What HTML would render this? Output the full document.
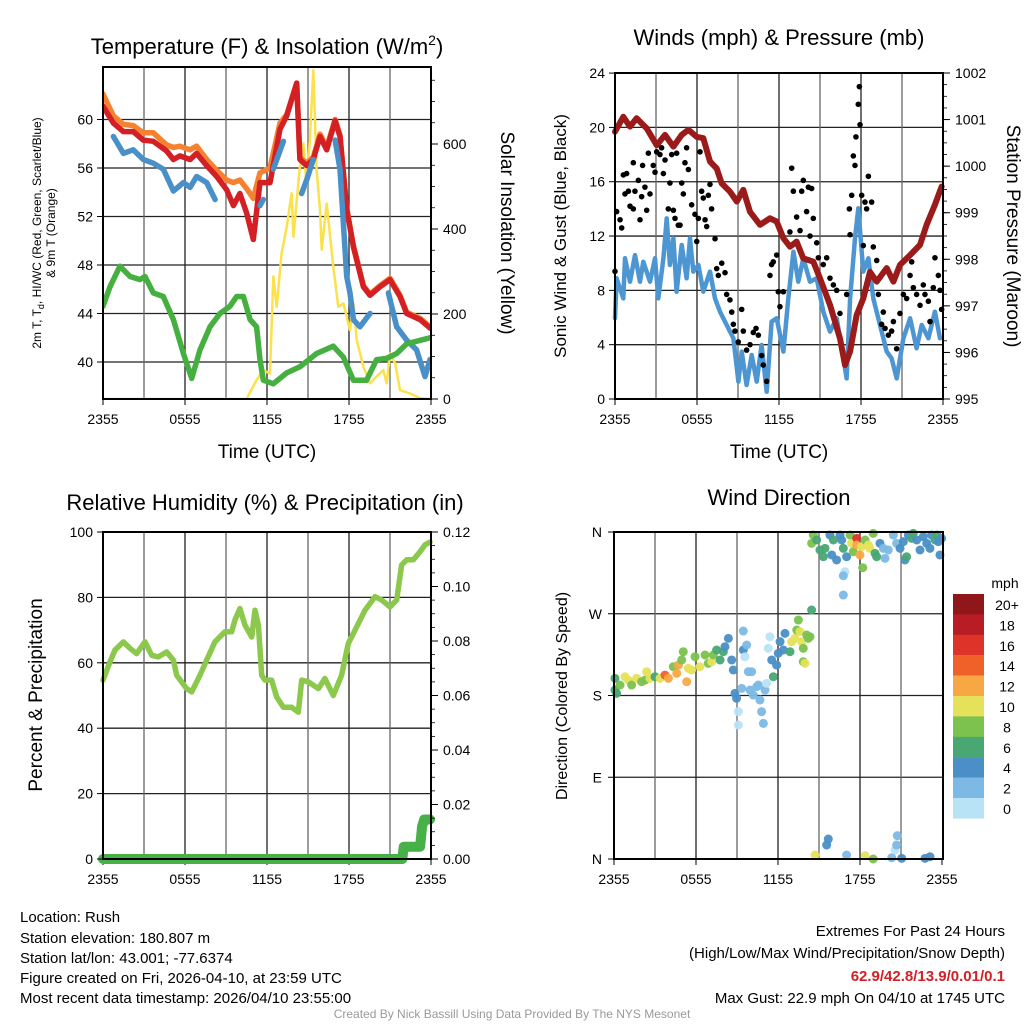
<!DOCTYPE html>
<html><head><meta charset="utf-8"><style>
html,body{margin:0;padding:0;background:#fff;}
svg{display:block;font-family:"Liberation Sans",sans-serif;}
</style></head><body>
<svg id="c" width="1024" height="1024" viewBox="0 0 1024 1024" xmlns="http://www.w3.org/2000/svg">
<rect width="1024" height="1024" fill="#fff"/>
<g id="g1"></g>
<g id="g2"></g>
<g id="g3"></g>
<g id="g4"></g>
<text x="267" y="54" font-size="22" text-anchor="middle">Temperature (F) &amp; Insolation (W/m<tspan dy="-9" font-size="14">2</tspan><tspan dy="9">)</tspan></text>
<text x="779" y="45" font-size="22" text-anchor="middle">Winds (mph) &amp; Pressure (mb)</text>
<text x="265" y="510" font-size="22" text-anchor="middle">Relative Humidity (%) &amp; Precipitation (in)</text>
<text x="779" y="505" font-size="22" text-anchor="middle">Wind Direction</text>
<text x="267" y="458" font-size="19" text-anchor="middle">Time (UTC)</text>
<text x="779" y="458" font-size="19" text-anchor="middle">Time (UTC)</text>
<text transform="translate(41,233) rotate(-90)" font-size="12" text-anchor="middle">2m T, T<tspan font-size="9" dy="3">d</tspan><tspan dy="-3">, HI/WC (Red, Green, Scarlet/Blue)</tspan></text>
<text transform="translate(55,233) rotate(-90)" font-size="12" text-anchor="middle">&amp; 9m T (Orange)</text>
<text transform="translate(501,233) rotate(90)" font-size="19" text-anchor="middle">Solar Insolation (Yellow)</text>
<text transform="translate(566,236) rotate(-90)" font-size="17" text-anchor="middle">Sonic Wind &amp; Gust (Blue, Black)</text>
<text transform="translate(1007,236) rotate(90)" font-size="19" text-anchor="middle">Station Pressure (Maroon)</text>
<text transform="translate(42,695) rotate(-90)" font-size="19" text-anchor="middle">Percent &amp; Precipitation</text>
<text transform="translate(567,696) rotate(-90)" font-size="16" text-anchor="middle">Direction (Colored By Speed)</text>
<g font-size="15">
<text x="20" y="922">Location: Rush</text>
<text x="20" y="943">Station elevation: 180.807 m</text>
<text x="20" y="963">Station lat/lon: 43.001; -77.6374</text>
<text x="20" y="983">Figure created on Fri, 2026-04-10, at 23:59 UTC</text>
<text x="20" y="1003">Most recent data timestamp: 2026/04/10 23:55:00</text>
</g>
<g font-size="15" text-anchor="end">
<text x="1005" y="936">Extremes For Past 24 Hours</text>
<text x="1005" y="958">(High/Low/Max Wind/Precipitation/Snow Depth)</text>
<text x="1005" y="981" fill="#d42025" font-weight="bold">62.9/42.8/13.9/0.01/0.1</text>
<text x="1005" y="1003">Max Gust: 22.9 mph On 04/10 at 1745 UTC</text>
</g>
<text x="512" y="1018" font-size="12" fill="#999" text-anchor="middle">Created By Nick Bassill Using Data Provided By The NYS Mesonet</text>
</svg>
<script>
// ---------- data ----------
const timeTicks = ["2355","0555","1155","1755","2355"];
const redH = [0,0.76,1.49,2.22,2.95,3.68,4.66,5.15,5.63,6.37,6.85,7.59,8.32,9.05,9.54,10.02,10.51,11.0,11.49,12.22,12.95,13.44,14.17,14.41,14.9,15.39,15.88,16.37,16.98,17.34,17.83,18.32,19.05,19.54,20.27,21.0,21.73,22.22,23.2,23.93];
const redT = [61.1,59.7,59.0,59.0,58.3,58.2,57.4,56.7,57.0,56.7,57.2,56.2,55.3,54.2,52.9,53.9,52.3,50.1,54.8,54.8,59.2,60.3,63.0,56.7,56.2,56.7,58.6,57.5,59.9,58.6,52.6,49.5,46.2,45.5,46.2,46.8,45.4,44.0,43.5,42.8];
const orangeT = [62.1,60.3,59.6,59.5,58.9,58.9,57.9,57.7,57.8,57.5,57.8,56.7,55.8,55.0,54.8,55.0,54.3,53.5,55.6,56.0,59.7,60.4,63.0,56.9,56.4,56.9,58.8,57.7,60.0,58.7,52.7,49.6,46.3,45.6,46.3,46.9,45.5,44.1,43.6,42.9];
const blueH = [0.76,1.49,2.22,2.95,3.68,4.41,5.15,5.88,6.37,6.85,7.59,8.2,null,11.49,11.73,null,12.46,13.2,null,14.53,14.9,15.39,null,16.98,17.34,17.83,18.07,18.32,18.8,19.54,null,20.88,21.49,22.22,22.95,23.56,23.93];
const blueT = [58.6,57.2,57.5,56.7,56.4,55.9,54.1,54.8,54.4,55.3,54.8,53.4,null,52.9,53.4,null,55.9,58.2,null,53.9,55.0,56.7,null,58.3,55.9,47.05,45.7,43.5,42.9,44.0,null,45.7,42.9,41.8,41.0,38.8,40.2];
const greenH = [0,0.51,1.24,1.98,2.71,3.07,3.68,4.41,5.15,5.88,6.49,7.1,7.83,8.56,9.29,9.78,10.27,10.76,11.24,11.49,11.73,12.46,13.44,14.41,15.63,16.85,17.59,18.32,19.29,20.02,20.76,21.49,22.22,23.93];
const greenT = [44.6,46.2,47.9,47.05,46.8,47.05,45.7,45.4,43.5,40.7,38.65,41.0,42.9,44.0,44.6,45.4,45.4,43.5,42.9,40.2,38.5,38.2,39.1,39.6,40.7,41.3,40.4,38.5,38.5,40.2,40.3,40.7,41.5,42.0];
const solarH = [0,10.51,11.24,11.73,12.22,12.46,12.71,13.07,13.44,13.8,13.93,14.41,14.66,14.9,15.15,15.39,15.63,15.88,16.0,16.37,16.85,17.22,17.59,18.07,18.32,18.56,19.05,19.54,20.02,20.51,20.76,21.0,21.37,21.73,22.47,23.2,23.93];
const solarW = [0,0,45,68,60,288,217,343,405,484,382,547,602,500,617,774,539,445,351,460,311,217,225,162,225,139,76,37,53,68,37,107,84,21,13,2,0];
const tempTicks = [40,44,48,52,56,60];
const solarTicks = [0,200,400,600];

const windH = [0,0.12,0.61,0.73,1.1,1.46,1.83,2.07,2.56,2.93,3.17,3.54,3.78,4.02,4.27,4.51,4.88,5.24,5.49,5.73,6.1,6.46,6.95,7.32,7.68,8.17,8.66,9.03,9.27,9.63,10.0,10.37,10.73,11.1,11.46,11.83,12.32,12.68,13.05,13.41,13.78,14.27,14.76,15.24,15.73,16.22,16.71,16.95,17.2,17.56,17.8,18.17,18.54,18.9,19.39,19.88,20.24,20.61,21.1,21.59,22.07,22.44,22.93,23.41,23.78];
const windV = [5.94,8.89,7.41,10.36,8.64,10.6,8.64,10.1,8.64,10.36,7.41,10.36,13.3,9.87,11.83,7.9,11.34,8.89,11.83,9.38,9.87,7.9,9.38,7.41,6.43,5.45,4.47,1.28,3.49,1.03,3.24,1.28,3.98,0.54,5.7,5.94,3.49,7.41,10.85,8.64,10.36,8.64,8.89,6.43,4.96,5.94,3.0,1.52,7.41,11.83,14.04,9.38,10.36,7.41,5.45,3.49,3.0,1.52,4.47,5.94,3.73,5.45,4.47,6.43,4.47];
const presH = [0,0.61,1.1,1.58,2.32,3.05,3.66,4.27,4.88,5.37,5.98,6.46,6.95,7.44,7.81,8.42,8.91,9.39,9.88,10.61,11.34,11.83,12.32,12.81,13.29,13.78,14.51,15.0,15.73,16.46,16.83,17.2,17.68,18.17,18.66,19.15,19.88,20.37,20.85,21.59,22.32,22.8,23.41,23.9];
const presV = [1000.74,1001.06,1000.85,1001.03,1000.81,1000.45,1000.67,1000.42,1000.67,1000.78,1000.63,1000.60,1000.10,999.95,999.63,999.45,999.24,999.49,999.02,998.74,998.88,998.81,998.45,998.27,998.38,998.02,997.95,997.59,997.02,996.30,995.73,996.02,996.80,997.16,997.73,997.52,997.81,997.52,997.88,998.09,998.31,998.74,999.17,999.56];
const gustH = [0,0.12,0.37,0.49,0.61,0.85,0.73,0.98,1.34,1.46,1.1,1.34,1.71,1.83,1.95,2.02,2.19,2.32,2.44,2.56,2.8,2.93,3.05,3.29,3.41,3.54,3.66,3.9,4.02,4.15,4.27,4.39,4.51,4.63,4.76,4.88,5.0,5.12,5.24,5.37,5.61,5.85,5.98,6.1,6.22,6.34,6.46,6.59,6.71,6.83,6.95,7.07,7.32,7.44,7.56,7.81,8.05,8.17,8.41,8.54,8.66,8.78,9.02,9.27,9.39,9.63,9.88,10.12,10.32,10.49,10.73,10.85,11.1,11.34,11.46,11.58,11.83,11.95,12.07,12.32,12.8,12.93,13.05,13.29,13.54,13.66,13.78,14.02,14.15,14.27,14.39,14.51,14.76,14.88,15.24,15.49,15.73,15.98,16.22,16.46,16.95,17.2,17.15,17.32,17.44,17.56,17.63,17.8,17.88,17.93,18.05,18.17,18.29,18.41,18.54,18.78,18.9,19.15,19.27,19.51,19.63,19.76,20.0,20.24,20.37,20.61,20.85,21.1,21.34,21.59,21.71,21.83,22.07,22.32,22.56,22.68,22.93,23.05,23.29,23.41,23.66,23.78,23.9];
const gustV = [9.4,13.8,13.2,12.6,16.5,16.6,15.1,15.3,17.4,15.3,14.2,14.0,16.1,13.2,14.9,17.2,15.6,13.9,18.1,15.1,17.2,16.7,18.2,18.0,18.5,16.6,17.6,14.0,15.9,18.0,13.9,13.3,18.1,12.8,12.8,15.9,15.1,17.4,18.5,16.9,14.3,13.6,11.6,13.3,18.2,15.3,14.8,13.2,12.7,15.0,15.8,14.0,11.8,9.6,9.1,10.0,9.3,7.7,7.3,6.4,5.5,5.0,4.2,6.6,5.0,3.6,4.0,4.9,5.2,4.7,3.2,2.5,1.3,9.1,9.9,10.1,10.6,7.9,6.8,7.9,12.3,17.0,15.3,13.4,12.4,15.3,16.1,13.8,15.6,12.0,15.5,13.3,11.5,10.4,9.9,10.4,8.9,8.4,8.0,6.3,7.7,12.1,14.0,15.0,17.9,17.2,19.3,21.7,23.0,20.2,15.0,11.3,14.5,14.0,16.4,14.5,11.2,10.2,7.7,5.5,6.4,5.2,4.7,5.0,5.7,3.7,6.3,7.7,7.4,9.1,10.1,8.2,7.7,6.9,8.4,7.7,7.2,5.7,8.2,10.4,9.1,8.0,6.6];
const windTicks = [0,4,8,12,16,20,24];
const presTicks = [995,996,997,998,999,1000,1001,1002];

const rhH = [0,0.51,0.88,1.49,1.98,2.46,3.07,3.56,4.05,4.66,5.15,5.39,6.12,6.49,7.1,7.58,8.19,8.93,9.41,9.66,10.02,10.39,10.88,11.12,11.37,11.61,11.85,12.34,12.71,13.2,13.8,14.29,14.54,15.02,15.76,16.24,16.85,17.46,17.95,18.56,19.17,19.9,20.39,21.0,21.49,21.85,22.22,22.71,23.2,23.56,23.93];
const rhV = [54.7,60.3,63.9,66.4,64.4,62.8,66.4,62.3,61.8,63.3,60.8,56.2,52.1,51.1,56.2,60.8,66.4,69.5,69.5,73.1,76.6,71.5,67.9,76.1,71.5,56.2,54.7,54.7,49.5,46.4,46.4,44.9,54.7,54.2,52.1,55.2,50.0,56.2,65.9,71.0,76.1,80.2,79.2,77.1,79.2,89.9,91.5,91.5,94.0,96.1,96.9];
const precH = [0,21.9,22.0,23.2,23.35,23.5,23.93];
const precV = [0,0,0.0045,0.0045,0.012,0.0145,0.0145];
const rhTicks = [0,20,40,60,80,100];
const precTicks = [0,0.02,0.04,0.06,0.08,0.10,0.12];

const dirH = [0.07,0.07,0.19,0.44,0.8,1.05,1.29,1.66,2.02,2.27,2.39,2.63,3.0,3.37,3.73,3.98,4.34,4.59,4.71,4.95,5.07,5.32,5.44,5.68,5.93,6.29,6.66,6.9,7.15,7.27,7.51,7.76,8.0,8.12,8.37,8.61,8.73,8.85,8.97,9.1,9.1,9.34,9.46,9.58,9.71,9.46,9.83,10.07,9.95,10.19,10.44,10.56,10.68,10.8,10.93,11.05,11.17,11.41,11.29,11.66,11.54,11.9,12.02,12.15,12.39,12.51,12.88,13.0,13.24,13.37,13.49,13.61,13.73,13.85,14.1,14.22,14.34,13.85,13.98,14.46,14.58,14.46,14.83,15.07,15.32,15.44,15.8,15.93,16.05,16.29,16.54,16.66,16.78,17.02,17.27,17.39,17.51,17.76,17.76,18.0,18.12,18.2,18.37,18.61,18.73,18.97,19.1,19.22,19.46,19.71,19.83,20.07,20.44,20.68,20.93,21.17,21.29,21.41,21.54,21.78,21.9,22.15,22.39,22.63,22.88,23.12,23.24,23.49,23.61,23.73,23.85,23.97,16.9,16.78,16.78,14.71,15.56,15.68,17.02,18.37,18.97,20.32,20.56,20.68,20.73,21.05,22.76,23.12];
const dirDeg = [198.9,186.0,182.4,191.5,200.7,197.0,191.5,198.9,195.2,197.0,206.2,198.9,200.7,198.9,202.5,198.9,211.7,204.4,213.5,219.1,228.2,195.2,209.9,208.1,222.7,211.7,224.6,215.4,217.2,224.6,230.1,219.1,228.2,233.7,242.9,219.1,208.1,182.4,176.9,162.2,147.5,187.9,230.1,222.7,235.6,251.0,206.2,206.2,186.0,180.5,189.7,191.5,175.0,162.2,149.3,186.0,193.4,244.7,231.9,200.7,219.1,213.5,226.4,239.3,230.1,248.4,228.2,239.3,242.9,252.1,263.1,250.3,239.3,231.9,246.6,242.9,244.7,217.2,215.4,274.1,356.7,347.5,351.2,340.2,332.8,342.0,356.7,334.7,351.2,329.2,356.7,351.2,342.0,332.8,356.7,347.5,338.3,353.0,345.7,334.7,343.8,320.7,351.2,345.7,342.0,358.5,336.5,332.8,347.5,342.0,331.0,340.2,356.7,347.5,342.0,349.4,329.2,332.8,356.7,353.0,358.5,351.2,340.2,354.9,347.5,342.0,356.7,351.2,356.7,349.4,334.7,353.0,316.3,311.9,290.6,4.4,15.4,22.0,4.4,3.6,0,1.4,9.9,15.4,25.7,0.7,0.7,2.5];
const dirSpd = [6,6,6,8,10,10,8,10,8,8,10,10,6,10,14,12,8,12,12,8,8,12,10,10,8,10,8,8,10,8,6,6,6,4,4,4,4,4,4,0,0,2,4,0,2,2,2,2,2,2,2,2,2,2,2,2,0,0,0,6,4,4,4,4,4,4,6,10,10,8,8,10,10,8,8,8,8,8,10,6,8,8,6,6,6,6,4,4,6,4,4,4,6,4,8,10,8,16,12,12,10,8,8,10,10,8,6,6,4,2,2,2,2,2,4,4,4,6,4,6,6,4,4,4,4,4,4,6,6,4,4,4,0,2,2,10,4,4,2,10,8,2,0,2,2,4,4,4];
const dirTicks = ["N","E","S","W","N"];
const cbLabels = ["20+","18","16","14","12","10","8","6","4","2","0"];
const cbColors = ["#8f1619","#b81c24","#dd3329","#f0612a","#f7a845","#e6e15a","#7bc24e","#48a773","#4a8fc6","#7cb9e5","#b8e3f7"];

// ---------- helpers ----------
const NS="http://www.w3.org/2000/svg";
function el(parent,tag,attrs){const e=document.createElementNS(NS,tag);for(const k in attrs)e.setAttribute(k,attrs[k]);parent.appendChild(e);return e;}
function txt(parent,x,y,s,size,anchor){const t=el(parent,"text",{x:x,y:y,"font-size":size,"text-anchor":anchor});t.textContent=s;return t;}
const PX_PER_H=328/24;
function frame(g,x0,y0,x1,y1){
  for(let h=3;h<24;h+=3){const l=el(g,"line",{x1:x0+h*PX_PER_H,x2:x0+h*PX_PER_H,y1:y0,y2:y1,stroke:(h%6==0)?"#222":"#666","stroke-width":1.3});
    
    }
  timeTicks.forEach((s,i)=>{const x=x0+i*6*PX_PER_H;const t=txt(g,x,y1+25,s,14,"middle");
    
    
    el(g,"line",{x1:x,x2:x,y1:y1,y2:y1+6,stroke:"#000"});});
}
function hgrid(g,x0,x1,y){const l=el(g,"line",{x1:x0,x2:x1,y1:y,y2:y,stroke:"#222","stroke-width":1.3});
  
  }
function box(g,x0,y0,x1,y1){const r=el(g,"rect",{x:x0,y:y0,width:x1-x0,height:y1-y0,fill:"none",stroke:"#000","stroke-width":2});
  
  }
function path(g,hs,vs,fx,fy,color,w,name){let d="",pen=false;
  for(let i=0;i<hs.length;i++){if(hs[i]===null||vs[i]===null||hs[i]===undefined||vs[i]===undefined){pen=false;continue;}
    d+=(pen?"L":"M")+fx(hs[i]).toFixed(1)+","+fy(vs[i]).toFixed(1);pen=true;}
  const p=el(g,"path",{d:d,fill:"none",stroke:color,"stroke-width":w,"stroke-linejoin":"round","stroke-linecap":"round"});
  
  return p;}
function rticks(g,x,vals,fy,fmt,minorStep,lo,hi){
  vals.forEach(v=>{const y=fy(v);el(g,"line",{x1:x,x2:x+7,y1:y,y2:y,stroke:"#000"});const t=txt(g,x+12,y+5,fmt(v),14,"start");
    
    });
  for(let v=lo;v<=hi+1e-9;v+=minorStep){const y=fy(v);el(g,"line",{x1:x,x2:x+4,y1:y,y2:y,stroke:"#000","stroke-width":0.8});}
}
function lticks(g,x,vals,fy,fmt){vals.forEach(v=>{const y=fy(v);el(g,"line",{x1:x-6,x2:x,y1:y,y2:y,stroke:"#000"});const t=txt(g,x-10,y+5,fmt(v),14,"end");
    
    });}

// ---------- panel 1 ----------
(function(){const g=document.getElementById("g1");const X0=103,X1=431,Y0=67,Y1=399;
  const fx=h=>X0+h*PX_PER_H, fT=t=>362-(t-40)*12.125, fS=w=>399-w*0.425;
  const cp=el(g,"clipPath",{id:"cp1"});el(cp,"rect",{x:X0,y:Y0,width:X1-X0,height:Y1-Y0});
  tempTicks.forEach(t=>hgrid(g,X0,X1,fT(t)));frame(g,X0,Y0,X1,Y1);
  const d=el(g,"g",{"clip-path":"url(#cp1)"});
  path(d,solarH,solarW,fx,fS,"#fbe24a",2.5,"solar-line");
  path(d,redH,orangeT,fx,fT,"#f58231",5.5,"orange-9m-temp-line");
  path(d,redH,redT,fx,fT,"#d42025",5.5,"red-2m-temp-line");
  path(d,blueH,blueT,fx,fT,"#4a90c8",5.5,"blue-windchill-line");
  path(d,greenH,greenT,fx,fT,"#45b040",5.5,"green-dewpoint-line");
  box(g,X0,Y0,X1,Y1);lticks(g,X0,tempTicks,fT,v=>v);rticks(g,X1,solarTicks,fS,v=>v,50,0,750);})();

// ---------- panel 2 ----------
(function(){const g=document.getElementById("g2");const X0=615,X1=943,Y0=73,Y1=399;
  const fx=h=>X0+h*PX_PER_H, fW=m=>399-m*13.58, fP=p=>399-(p-995)*46.57;
  windTicks.forEach(t=>hgrid(g,X0,X1,fW(t)));frame(g,X0,Y0,X1,Y1);
  path(g,windH,windV,fx,fW,"#4d96d2",4.5,"sonic-wind-line");
  const n=Math.min(gustH.length,gustV.length);
  for(let i=0;i<n;i++){const c=el(g,"circle",{cx:fx(gustH[i]),cy:fW(gustV[i]),r:2.8,fill:"#000"});
    
    }
  path(g,presH,presV,fx,fP,"#9b1a1a",6,"pressure-line");
  box(g,X0,Y0,X1,Y1);lticks(g,X0,windTicks,fW,v=>v);rticks(g,X1,presTicks,fP,v=>v,0.25,995,1002);})();

// ---------- panel 3 ----------
(function(){const g=document.getElementById("g3");const X0=103,X1=431,Y0=532,Y1=859;
  const fx=h=>X0+h*PX_PER_H, fR=r=>859-r*3.27, fPr=p=>859-p*2725;
  rhTicks.forEach(t=>hgrid(g,X0,X1,fR(t)));frame(g,X0,Y0,X1,Y1);
  path(g,rhH,rhV,fx,fR,"#8cc84b",5.5,"humidity-line");
  path(g,precH,precV,fx,fPr,"#47b147",10,"precipitation-line");
  box(g,X0,Y0,X1,Y1);lticks(g,X0,rhTicks,fR,v=>v);rticks(g,X1,precTicks,fPr,v=>v.toFixed(2),0.005,0,0.12);})();

// ---------- panel 4 ----------
(function(){const g=document.getElementById("g4");const X0=614,X1=943,Y0=532,Y1=859;
  const fx=h=>X0+h*PX_PER_H, fD=d=>859-d*0.9083;
  [90,180,270].forEach(t=>hgrid(g,X0,X1,fD(t)));frame(g,X0,Y0,X1,Y1);
  dirTicks.forEach((s,i)=>{const y=fD(i*90);el(g,"line",{x1:X0-6,x2:X0,y1:y,y2:y,stroke:"#000"});const t=txt(g,X0-12,y+5,s,14,"end");
    
    });
  const n=Math.min(dirH.length,dirDeg.length,dirSpd.length);
  for(let i=0;i<n;i++){const bin=Math.min(10,Math.floor(dirSpd[i]/2));
    const c=el(g,"circle",{cx:fx(dirH[i]),cy:fD(dirDeg[i]),r:4.5,fill:cbColors[10-bin],"fill-opacity":0.95});
    
    }
  box(g,X0,Y0,X1,Y1);
  const t0=txt(g,1005,588,"mph",14,"middle");
  
  
  cbColors.forEach((c,i)=>{const r=el(g,"rect",{x:953,y:594+i*20.4,width:31,height:20.6,fill:c});
    
    
    const t=txt(g,1007,594+i*20.4+16,cbLabels[i],14,"middle");
    
    });})();
</script>
</body></html>
